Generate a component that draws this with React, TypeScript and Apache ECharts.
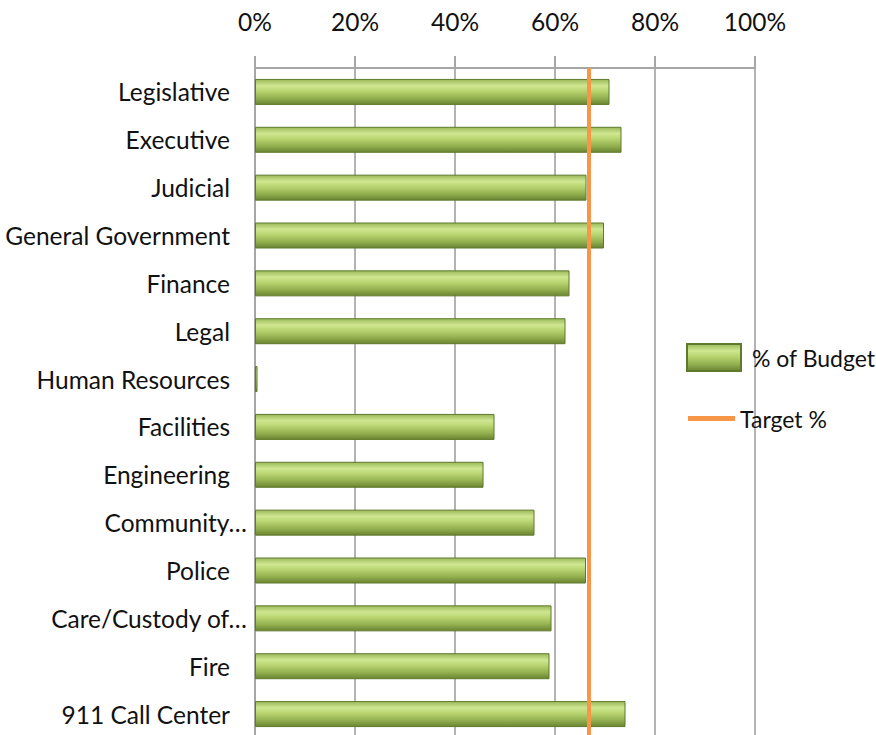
import React, { useEffect, useRef } from "react";
import * as echarts from "echarts";

const categories = [
  "Legislative",
  "Executive",
  "Judicial",
  "General Government",
  "Finance",
  "Legal",
  "Human Resources",
  "Facilities",
  "Engineering",
  "Community…",
  "Police",
  "Care/Custody of…",
  "Fire",
  "911 Call Center",
];
const budgetPct = [70.9, 73.3, 66.3, 69.8, 62.9, 62.1, 0.5, 47.9, 45.7, 55.9, 66.2, 59.3, 58.9, 74.1];
const targetPct = 66.8;
const tickValues = [0, 20, 40, 60, 80, 100];

const FONT = "Lato, 'DejaVu Sans Condensed', sans-serif";
const FS = 24.5;
const LFS = 23;

export default function App() {
  const ref = useRef<HTMLDivElement>(null);
  useEffect(() => {
    if (!ref.current) return;
    const chart = echarts.init(ref.current, undefined, { renderer: "svg" });
    const barGradient = new echarts.graphic.LinearGradient(0, 0, 0, 1, [
      { offset: 0, color: "#9ab95a" },
      { offset: 0.25, color: "#cfe791" },
      { offset: 0.45, color: "#b9d672" },
      { offset: 0.75, color: "#93b04f" },
      { offset: 1, color: "#6a8432" },
    ]);
    chart.setOption({
      animation: false,
      grid: {
        left: 255,
        right: 121,
        top: 68,
        bottom: -3,
        containLabel: false,
        outerBoundsMode: "none",
      },
      xAxis: {
        type: "value",
        position: "top",
        min: 0,
        max: 100,
        interval: 20,
        axisLine: { show: true, lineStyle: { color: "#a6a6a6", width: 2 } },
        axisTick: { show: true, length: 12, lineStyle: { color: "#a6a6a6", width: 2 } },
        splitLine: { show: true, lineStyle: { color: "#9a9a9a", width: 1.5 } },
        axisLabel: {
          margin: 34,
          fontSize: FS,
          fontFamily: FONT,
          color: "#111",
          formatter: (v: number) => (tickValues.includes(v) ? v + "%" : ""),
        },
      },
      yAxis: {
        type: "category",
        inverse: true,
        data: categories,
        axisLine: { show: true, lineStyle: { color: "#a6a6a6", width: 2 } },
        axisTick: { show: false },
        axisLabel: {
          margin: 8,
          fontSize: FS,
          fontFamily: FONT,
          color: "#111",
          formatter: (v: string) => (v.endsWith("…") ? v : "{p|" + v + "}"),
          rich: {
            p: { fontSize: FS, fontFamily: FONT, color: "#111", padding: [0, 17, 0, 0] },
          },
        },
      },
      legend: [
        {
          data: [{ name: "% of Budget", icon: "rect" }],
          left: 686,
          top: 343,
          padding: 0,
          itemWidth: 54,
          itemHeight: 27,
          textStyle: { fontSize: LFS, fontFamily: FONT, color: "#111", padding: [0, 0, 0, 6] },
        },
        {
          data: [{ name: "Target %", icon: "rect" }],
          left: 688,
          top: 407,
          padding: 0,
          itemWidth: 47,
          itemHeight: 5,
          textStyle: { fontSize: LFS, fontFamily: FONT, color: "#111", padding: [0, 0, 0, 0] },
        },
      ],
      series: [
        {
          name: "% of Budget",
          type: "bar",
          data: budgetPct,
          barWidth: 26,
          itemStyle: { color: barGradient, borderColor: "#5f7a2c", borderWidth: 1 },
        },
        {
          name: "Target %",
          type: "line",
          data: [],
          itemStyle: { color: "#f79646" },
          lineStyle: { color: "#f79646", width: 4 },
          markLine: {
            silent: true,
            symbol: ["none", "none"],
            label: { show: false },
            lineStyle: { color: "#f79646", width: 4, type: "solid" },
            data: [{ xAxis: targetPct }],
          },
        },
      ],
    });
    return () => chart.dispose();
  }, []);
  return (
    <div
      ref={ref}
      style={{ position: "fixed", left: 0, top: 0, width: 876, height: 735, background: "#fff" }}
    />
  );
}
